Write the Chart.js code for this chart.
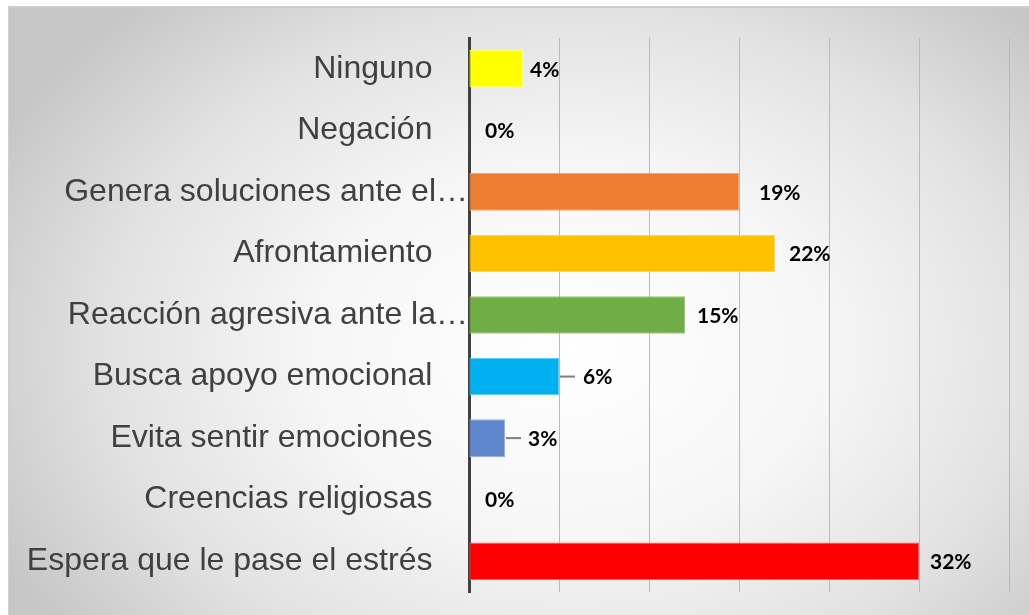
<!DOCTYPE html>
<html lang="es">
<head>
    <meta charset="UTF-8">
    <title>Estrategias de afrontamiento</title>
    <style>
        * {
            margin: 0;
            padding: 0;
            box-sizing: border-box;
        }

        body {
            width: 1029px;
            height: 615px;
            background: #ffffff;
            position: relative;
            overflow: hidden;
        }

        .panel {
            position: absolute;
            left: 8px;
            top: 6px;
            width: 1021px;
            height: 609px;
            border-top: 2px solid #cdcdcd;
            border-left: 1px solid #cfcfcf;
            background: radial-gradient(ellipse 640px 470px at 560px 340px, #ffffff 0%, #f6f6f6 40%, #e2e2e2 72%, #c6c6c6 100%);
        }

        canvas {
            position: absolute;
            left: 0;
            top: 0;
        }
    </style>
    <script src="https://cdn.jsdelivr.net/npm/chart.js"></script>
</head>
<body>
    <div class="panel"></div>
    <canvas id="grafico" width="1029" height="615"></canvas>
    <script>
        // datos
        const categorias = [
            'Ninguno',
            'Negación',
            'Genera soluciones ante el…',
            'Afrontamiento',
            'Reacción agresiva ante la…',
            'Busca apoyo emocional',
            'Evita sentir emociones',
            'Creencias religiosas',
            'Espera que le pase el estrés'
        ];
        const frecuencias = [3, 0, 15, 17, 12, 5, 2, 0, 25];
        const porcentajes = [4, 0, 19, 22, 15, 6, 3, 0, 32];

        const colores = ['#ffff00', '#a5a5a5', '#ed7d31', '#ffc000', '#70ad47', '#00b0f0', '#5f87cd', '#a5a5a5', '#ff0000'];
        const bordes = ['#ffff70', '#c0c0c0', '#f4a672', '#ffd45a', '#9cc77e', '#5ccaf5', '#97afe0', '#c0c0c0', '#ff5c5c'];
        const desplazamiento = [7, 16, 20, 14, 12, 24, 23, 16, 11];
        const conLinea = [false, false, false, false, false, true, true, false, false];

        const etiquetasDatos = {
            id: 'etiquetasDatos',
            afterDatasetsDraw(chart) {
                const ctx = chart.ctx;
                const meta = chart.getDatasetMeta(0);
                ctx.save();
                meta.data.forEach((bar, i) => {
                    if (conLinea[i]) {
                        ctx.strokeStyle = '#7f7f7f';
                        ctx.lineWidth = 2;
                        ctx.beginPath();
                        ctx.moveTo(bar.x + 1, bar.y);
                        ctx.lineTo(bar.x + 16, bar.y);
                        ctx.stroke();
                    }
                    ctx.fillStyle = '#000000';
                    ctx.font = 'bold 21px Lato, sans-serif';
                    ctx.textAlign = 'left';
                    ctx.textBaseline = 'middle';
                    ctx.fillText(porcentajes[i] + '%', bar.x + desplazamiento[i], bar.y + 1);
                });
                ctx.restore();
            }
        };

        const ctx = document.getElementById('grafico').getContext('2d');
        new Chart(ctx, {
            type: 'bar',
            data: {
                labels: categorias,
                datasets: [{
                    data: frecuencias,
                    backgroundColor: colores,
                    borderColor: bordes,
                    borderWidth: 1,
                    borderSkipped: false,
                    barPercentage: 0.61,
                    categoryPercentage: 1
                }]
            },
            options: {
                indexAxis: 'y',
                responsive: false,
                animation: false,
                layout: {
                    padding: { top: 38, right: 20, bottom: 23, left: 0 }
                },
                plugins: {
                    legend: { display: false },
                    tooltip: { enabled: false }
                },
                scales: {
                    x: {
                        min: 0,
                        max: 30,
                        ticks: { display: false, stepSize: 5 },
                        grid: { color: '#bababa', lineWidth: 1, drawTicks: false },
                        border: { display: false },
                        afterFit: (scale) => { scale.height = 0; }
                    },
                    y: {
                        z: 1,
                        grid: { display: false, drawTicks: false },
                        border: { display: true, color: '#404040', width: 3 },
                        ticks: {
                            color: '#404040',
                            padding: 1,
                            font: { family: "'Liberation Sans', Arial, sans-serif", size: 32 },
                            callback: function (value) {
                                const texto = this.getLabelForValue(value);
                                return texto.endsWith('…') ? texto : texto + '    ';
                            }
                        },
                        afterFit: (scale) => { scale.width = 469; }
                    }
                }
            },
            plugins: [etiquetasDatos]
        });
    </script>
</body>
</html>
